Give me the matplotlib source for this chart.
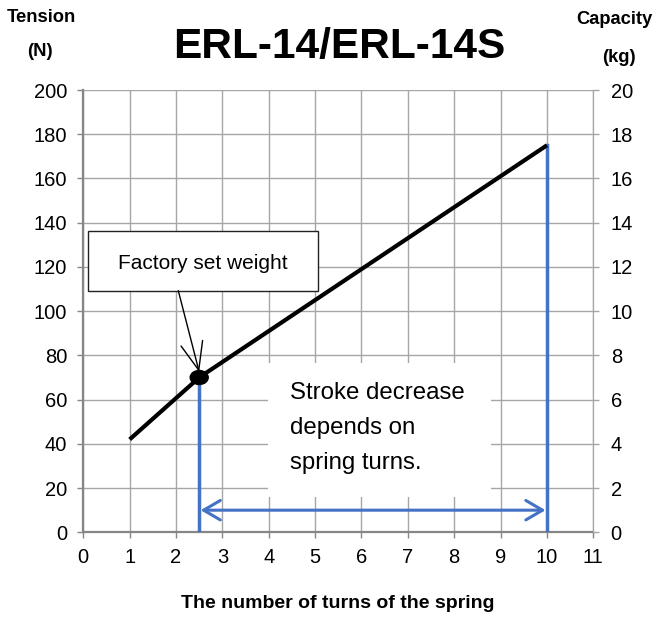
import matplotlib
matplotlib.use("Agg")
import matplotlib.pyplot as plt
from matplotlib.patches import Rectangle, Ellipse

plt.rcParams['font.family'] = ['Liberation Sans', 'DejaVu Sans']

# ---- data ----
turns = [1, 2.5, 10]
tension = [42, 70, 175]
factory_turns = 2.5
factory_tension = 70
stroke_start = 2.5
stroke_end = 10
stroke_arrow_level = 10
x_ticks = list(range(0, 12))
y_ticks_left = list(range(0, 201, 20))
y_ticks_right = list(range(0, 21, 2))
title = "ERL-14/ERL-14S"
xlabel = "The number of turns of the spring"

W, H = 666, 617
fig = plt.figure(figsize=(W / 100, H / 100), dpi=100)
x0, x1 = 83.3, 593.3
y0, y1 = 532.3, 90.0
ax = fig.add_axes([x0 / W, 1 - y0 / H, (x1 - x0) / W, (y0 - y1) / H])

grid_c = '#A6A6A6'
spine_c = '#868686'
blue = '#4472C4'

ax.set_xlim(0, 11)
ax.set_ylim(0, 200)
ax.set_xticks(x_ticks)
ax.set_yticks(y_ticks_left)
ax.grid(True, color=grid_c, lw=1.0)
ax.set_axisbelow(True)
ax.spines['top'].set_visible(False)
ax.spines['right'].set_color(grid_c)
ax.spines['left'].set_color(spine_c)
ax.spines['bottom'].set_color(spine_c)
ax.spines['left'].set_linewidth(1.6)
ax.spines['bottom'].set_linewidth(1.6)
ax.tick_params(axis='both', colors=spine_c, labelcolor='black', labelsize=14.5,
               length=4.5, width=1.0)
ax.tick_params(axis='y', pad=7)
ax.tick_params(axis='x', pad=7)

ax2 = ax.twinx()
ax2.set_ylim(0, 20)
ax2.set_yticks(y_ticks_right)
for s in ['top', 'left', 'bottom']:
    ax2.spines[s].set_visible(False)
ax2.spines['right'].set_color(grid_c)
ax2.tick_params(axis='y', colors=grid_c, labelcolor='black', labelsize=14.5,
                length=4.5, width=1.0, pad=8)

# pixel -> data helpers
def px2x(px):
    return (px - x0) / (x1 - x0) * 11
def px2y(py):
    return (y0 - py) / (y0 - y1) * 200

# white box behind the stroke text
ax.add_patch(Rectangle((px2x(268), px2y(497)), px2x(491) - px2x(268), px2y(363) - px2y(497),
                       facecolor='white', edgecolor='none', zorder=1))
# factory box
ax.add_patch(Rectangle((px2x(88.3), px2y(290.7)), px2x(318.3) - px2x(88.3), px2y(231) - px2y(290.7),
                       facecolor='white', edgecolor='#222222', lw=1.0, zorder=1.5))
ax.text(px2x(203.3), px2y(264), "Factory set weight", fontsize=15, ha='center', va='center',
        zorder=2)

# main line
ax.plot(turns, tension, color='black', lw=3, zorder=4, solid_capstyle='butt')

# blue vertical lines
ax.plot([stroke_start, stroke_start], [0, factory_tension], color=blue, lw=2.5, zorder=3)
ax.plot([stroke_end, stroke_end], [0, tension[-1]], color=blue, lw=2.5, zorder=3)

# double arrow
ax.annotate('', xy=(stroke_end, stroke_arrow_level), xytext=(stroke_start, stroke_arrow_level),
            arrowprops=dict(arrowstyle='<->,head_length=0.6,head_width=0.35', color=blue, lw=2.2,
                            mutation_scale=20, shrinkA=1, shrinkB=1), zorder=3)

# factory dot
ax.add_patch(Ellipse((factory_turns, factory_tension), 18 / 46.36, 14 / 2.2115,
                     facecolor='black', edgecolor='black', zorder=5))
# factory arrow
ax.annotate('', xy=(factory_turns, factory_tension + 2.5), xytext=(px2x(178.3), px2y(290.7)),
            arrowprops=dict(arrowstyle='->,head_length=1.0,head_width=0.4', color='black', lw=1.0,
                            mutation_scale=20, shrinkA=0, shrinkB=0), zorder=6)

# stroke text
ax.text(px2x(290.5), px2y(382), "Stroke decrease\ndepends on\nspring turns.", fontsize=17.3,
        ha='left', va='top', linespacing=1.77, zorder=2)

# titles and labels
fig.text(339 / W, 1 - 47 / H, title, fontsize=30.5, fontweight='bold', ha='center', va='center')
fig.text(41 / W, 1 - 17 / H, "Tension", fontsize=13.2, fontweight='bold', ha='center', va='center')
fig.text(40 / W, 1 - 52 / H, "(N)", fontsize=13.2, fontweight='bold', ha='center', va='center')
fig.text(614 / W, 1 - 20 / H, "Capacity", fontsize=13.2, fontweight='bold', ha='center', va='center')
fig.text(619 / W, 1 - 57 / H, "(kg)", fontsize=13.2, fontweight='bold', ha='center', va='center')
fig.text(338 / W, 1 - 603 / H, xlabel, fontsize=14, fontweight='bold', ha='center', va='center')

fig.savefig("out.png", dpi=100)
